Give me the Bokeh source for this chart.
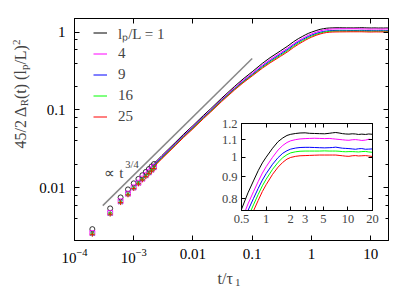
from bokeh.plotting import figure
from bokeh.models import (LogAxis, LogTicker, FixedTicker, LogTickFormatter, Legend,
                          LegendItem, Label, Range1d)
from bokeh.layouts import column
from bokeh.embed import file_html
from bokeh.resources import INLINE

# ---------------- data ----------------
t = [0.0022, 0.003, 0.005, 0.007, 0.01, 0.015, 0.02, 0.03, 0.05, 0.07, 0.1, 0.15, 0.2,
     0.3, 0.4, 0.5, 0.6, 0.7, 0.8, 0.9, 1.0, 1.2, 1.4, 1.6, 1.8, 2.0, 2.3, 2.6, 3.0,
     3.4, 3.9, 4.5, 5.2, 5.9, 6.5, 7.1, 7.8, 8.6, 9.4, 10.3, 11.3, 12.4, 13.5, 14.8,
     16.4, 18.0, 20.0]

y_lp1 = [0.0205, 0.026, 0.038, 0.049, 0.063, 0.085, 0.104, 0.14, 0.20, 0.25, 0.31, 0.40,
         0.47, 0.575, 0.665, 0.755, 0.825, 0.88, 0.93, 0.97, 1.0, 1.05, 1.088, 1.11,
         1.125, 1.132, 1.137, 1.14, 1.141, 1.138, 1.137, 1.136, 1.135, 1.138, 1.141,
         1.143, 1.14, 1.136, 1.134, 1.133, 1.135, 1.134, 1.131, 1.133, 1.131, 1.134, 1.132]
y_lp4 = [0.0199, 0.0252, 0.0368, 0.0474, 0.061, 0.082, 0.1, 0.135, 0.192, 0.24, 0.296,
         0.38, 0.445, 0.543, 0.627, 0.71, 0.777, 0.83, 0.877, 0.918, 0.95, 1.0, 1.04,
         1.066, 1.083, 1.093, 1.1, 1.104, 1.106, 1.107, 1.108, 1.107, 1.106, 1.107,
         1.105, 1.103, 1.101, 1.099, 1.097, 1.096, 1.099, 1.1, 1.098, 1.095, 1.097, 1.102, 1.1]
y_lp9 = [0.0195, 0.0247, 0.036, 0.0465, 0.0597, 0.0805, 0.098, 0.132, 0.187, 0.232, 0.286,
         0.366, 0.428, 0.522, 0.603, 0.684, 0.75, 0.80, 0.845, 0.884, 0.915, 0.963, 0.998,
         1.022, 1.036, 1.045, 1.051, 1.054, 1.055, 1.055, 1.054, 1.053, 1.052, 1.053,
         1.054, 1.056, 1.053, 1.05, 1.049, 1.048, 1.046, 1.044, 1.047, 1.048, 1.044, 1.045, 1.046]
y_lp16 = [0.0191, 0.0242, 0.0353, 0.0456, 0.0586, 0.079, 0.0965, 0.13, 0.184, 0.228, 0.28,
          0.356, 0.415, 0.505, 0.583, 0.66, 0.723, 0.773, 0.818, 0.857, 0.888, 0.937, 0.973,
          0.998, 1.014, 1.024, 1.03, 1.033, 1.034, 1.034, 1.034, 1.034, 1.035, 1.034,
          1.034, 1.034, 1.033, 1.031, 1.03, 1.031, 1.031, 1.03, 1.029, 1.031, 1.032, 1.029, 1.027]
y_lp25 = [0.0187, 0.0237, 0.0346, 0.0446, 0.0573, 0.0773, 0.0945, 0.127, 0.18, 0.223, 0.274,
          0.347, 0.403, 0.489, 0.563, 0.638, 0.698, 0.748, 0.792, 0.831, 0.862, 0.912, 0.948,
          0.973, 0.99, 0.999, 1.005, 1.008, 1.009, 1.01, 1.011, 1.012, 1.012, 1.012,
          1.012, 1.012, 1.01, 1.008, 1.006, 1.005, 1.008, 1.009, 1.007, 1.008, 1.009, 1.007, 1.004]

t_pts = [2e-4, 4e-4, 6e-4, 8e-4, 1e-3, 1.2e-3, 1.4e-3, 1.6e-3, 1.8e-3, 2.0e-3, 2.2e-3]
pts_lp1 = [0.00294, 0.00543, 0.00752, 0.00953, 0.0114, 0.0130, 0.0145, 0.0160, 0.0174, 0.0188, 0.0202]
pts_lp4 = [0.00262, 0.00475, 0.0067, 0.0084, 0.0101, 0.0116, 0.0131, 0.0145, 0.0158, 0.0171, 0.0184]
pts_lp9 = [0.00258, 0.00468, 0.0066, 0.0083, 0.0100, 0.0115, 0.0129, 0.0143, 0.0156, 0.0168, 0.0181]
pts_lp16 = [0.00255, 0.00463, 0.00652, 0.0082, 0.0099, 0.0114, 0.0128, 0.0141, 0.0154, 0.0166, 0.0179]
pts_lp25 = [0.00252, 0.00458, 0.00645, 0.0081, 0.0098, 0.0112, 0.0126, 0.0139, 0.0152, 0.0164, 0.0177]

guide_t = [3e-4, 0.1]
guide_y = [0.0059, 0.46]

series_labels = ["l\u209a/L = 1", "4", "9", "16", "25"]

inset_xticks = [0.5, 1, 2, 3, 4, 5, 10, 20]
inset_xlabels = ["0.5", "1", "2", "3", "", "5", "10", "20"]
inset_yticks = [0.8, 0.9, 1, 1.1, 1.2]
inset_ylabels = ["0.8", "0.9", "1", "1.1", "1.2"]

# ---------------- style ----------------
FONT = "Liberation Serif"
colors = ["black", "#ff00ff", "#0000ff", "#00ff00", "#ff0000"]
markers = ["circle", "square", "x", "asterisk", "cross"]
curves = [y_lp1, y_lp4, y_lp9, y_lp16, y_lp25]
points = [pts_lp1, pts_lp4, pts_lp9, pts_lp16, pts_lp25]

W, H = 413, 288


def abs_style(left, top, w, h):
    return {"position": "absolute", "left": f"{left}px", "top": f"{top}px",
            "width": f"{w}px", "height": f"{h}px", "max-width": "none"}


p = figure(width=W, height=H, x_axis_type="log", y_axis_type="log",
           x_range=Range1d(1e-4, 20), y_range=Range1d(0.0021, 1.5),
           output_backend="svg", toolbar_location=None,
           min_border_left=74, min_border_right=25, min_border_top=18, min_border_bottom=48,
           styles=abs_style(0, 0, W, H))
p.frame_align = False
p.grid.visible = False
p.outline_line_color = "black"
p.background_fill_color = "white"
p.border_fill_color = "white"


def style_axis(ax, minor, hide_labels=False, size="15px", standoff=8):
    ax.major_tick_in = 5
    ax.major_tick_out = 0
    ax.minor_tick_in = 3 if minor else 0
    ax.minor_tick_out = 0
    if not minor:
        ax.minor_tick_line_color = None
    ax.axis_line_color = "black"
    ax.major_tick_line_color = "black"
    ax.major_label_text_font = FONT
    ax.major_label_text_color = "black"
    if hide_labels:
        ax.major_label_text_font_size = "1px"
        ax.major_label_text_alpha = 0
        ax.major_label_standoff = 0
    else:
        ax.major_label_text_font_size = size
        ax.major_label_standoff = standoff


p.xaxis[0].ticker = LogTicker()
p.xaxis[0].formatter = LogTickFormatter(min_exponent=3)
style_axis(p.xaxis[0], minor=False, standoff=8)
p.yaxis[0].ticker = LogTicker()
p.yaxis[0].formatter = LogTickFormatter(min_exponent=3)
style_axis(p.yaxis[0], minor=True, standoff=9)

top_ax = LogAxis(ticker=LogTicker())
style_axis(top_ax, minor=False, hide_labels=True)
p.add_layout(top_ax, "above")
right_ax = LogAxis(ticker=LogTicker())
style_axis(right_ax, minor=True, hide_labels=True)
p.add_layout(right_ax, "right")

# guide line
p.line(guide_t, guide_y, line_color="#888888", line_width=1.5)

items = []
for lab, col, mk, yv, pv in zip(series_labels, colors, markers, curves, points):
    r = p.line(t, yv, line_color=col, line_width=1)
    p.scatter(t_pts, pv, marker=mk, size=5, line_color=col, fill_color=None, line_width=0.8)
    items.append(LegendItem(label=lab, renderers=[r]))

leg = Legend(items=items, location=(19, 113), padding=0, margin=0, spacing=0,
             glyph_width=14, glyph_height=21, label_height=21, label_standoff=11,
             label_text_font=FONT, label_text_font_size="15px",
             border_line_color=None, background_fill_alpha=0)
p.add_layout(leg, "center")

# proportional annotation
p.add_layout(Label(x=3.2e-4, y=0.0157, text="\u221d t", text_font=FONT,
                   text_font_size="15px", text_baseline="alphabetic", text_align="left"))
p.add_layout(Label(x=7.2e-4, y=0.0201, text="3/4", text_font=FONT,
                   text_font_size="10.5px", text_baseline="alphabetic", text_align="left"))

# ---------------- inset ----------------
IW, IH = 171, 113
ins = figure(width=IW, height=IH, x_axis_type="log", y_axis_type="log",
             x_range=Range1d(0.5, 20), y_range=Range1d(0.75, 1.2),
             output_backend="svg", toolbar_location=None,
             min_border_left=30, min_border_right=10, min_border_top=8, min_border_bottom=18,
             styles=abs_style(211, 115, IW, IH))
ins.frame_align = False
ins.grid.visible = False
ins.outline_line_color = "black"
ins.background_fill_color = "white"
ins.border_fill_alpha = 0

xover = dict(zip(inset_xticks, inset_xlabels))
yover = dict(zip(inset_yticks, inset_ylabels))


def style_inset_axis(ax, ticks, overrides, hide=False):
    ax.ticker = FixedTicker(ticks=ticks)
    ax.major_label_overrides = overrides
    ax.major_tick_in = 4
    ax.major_tick_out = 0
    ax.minor_tick_line_color = None
    ax.axis_line_color = "black"
    ax.major_label_text_font = FONT
    if hide:
        ax.major_label_text_font_size = "1px"
        ax.major_label_text_alpha = 0
        ax.major_label_standoff = 0
    else:
        ax.major_label_text_font_size = "12.5px"
        ax.major_label_standoff = 4


style_inset_axis(ins.xaxis[0], inset_xticks, xover)
style_inset_axis(ins.yaxis[0], inset_yticks, yover)
it = LogAxis()
style_inset_axis(it, inset_xticks, xover, hide=True)
ins.add_layout(it, "above")
ir = LogAxis()
style_inset_axis(ir, inset_yticks, yover, hide=True)
ins.add_layout(ir, "right")

for col, yv in zip(colors, curves):
    ins.line(t, yv, line_color=col, line_width=1)

# ---------------- transparent overlay for axis titles ----------------
ov = figure(width=W, height=H, x_range=Range1d(0, 1), y_range=Range1d(0, 1),
            output_backend="svg", toolbar_location=None,
            x_axis_location=None, y_axis_location=None, min_border=0,
            styles=abs_style(0, 0, W, H))
ov.frame_align = False
ov.grid.visible = False
ov.outline_line_color = None
ov.background_fill_alpha = 0
ov.border_fill_alpha = 0

# y axis title (pieces for sub/superscripts), screen px from canvas bottom-left
ylab_parts = ["45/2 \u0394", "R", "(t) (l", "p", "/L)", "2"]
ylab_pos = [(20, 140), (23, 182.2), (20, 189.5), (23, 218.4), (20, 223.9), (15.5, 243.5)]
ylab_size = ["16px", "11px", "16px", "11px", "16px", "11px"]
for txt, (sx, sy), fs in zip(ylab_parts, ylab_pos, ylab_size):
    ov.add_layout(Label(x=sx, y=sy, x_units="screen", y_units="screen", text=txt,
                        angle=1.5707963, text_font=FONT, text_font_size=fs,
                        text_baseline="alphabetic", text_align="left"))

# x axis title
xlab_parts = ["t/\u03c4", "1"]
xlab_pos = [(217, 10), (234.5, 6)]
xlab_size = ["16px", "11px"]
for txt, (sx, sy), fs in zip(xlab_parts, xlab_pos, xlab_size):
    ov.add_layout(Label(x=sx, y=sy, x_units="screen", y_units="screen", text=txt,
                        text_font=FONT, text_font_size=fs,
                        text_baseline="alphabetic", text_align="left"))

layout = column(p, ins, ov, width=W, height=H)
open("out.html", "w").write(file_html(layout, INLINE))
